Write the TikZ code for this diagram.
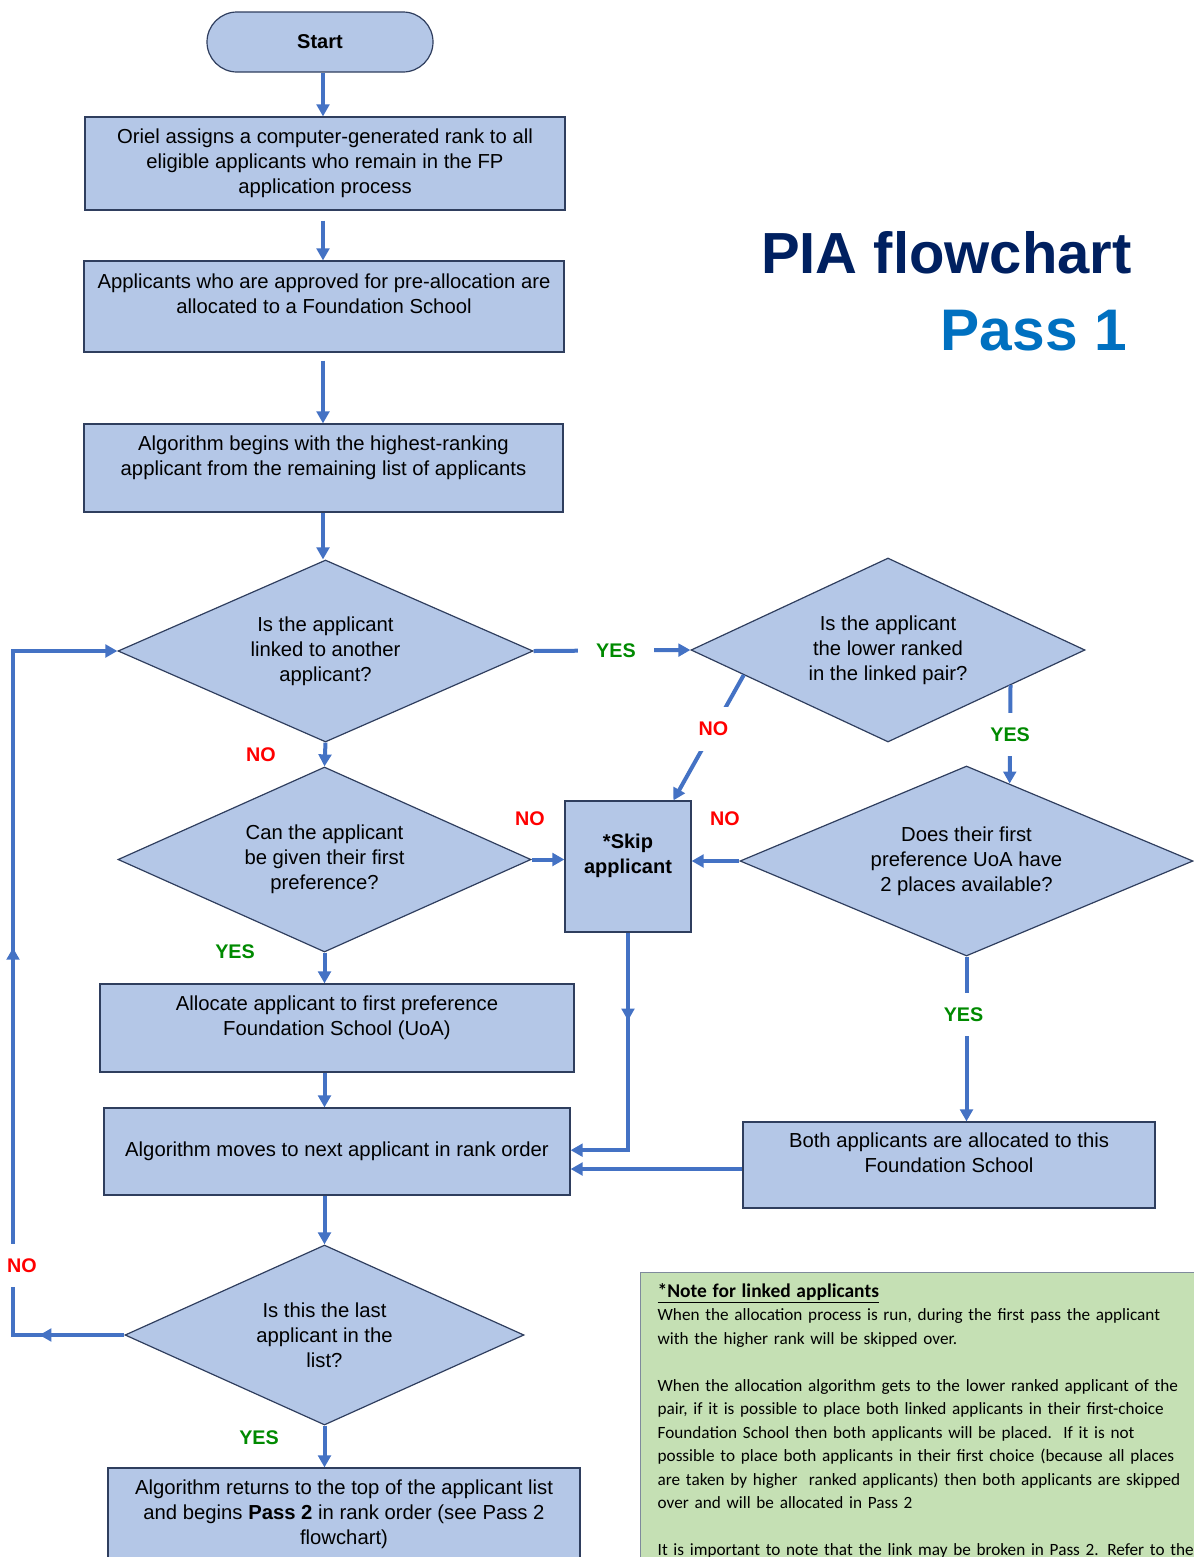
\documentclass[tikz,border=0pt]{standalone}
\usepackage{fontspec}
\setmainfont{Liberation Sans}
\newfontfamily\notefont{Carlito}
\usetikzlibrary{shapes.geometric,arrows.meta,decorations.markings,calc}

\definecolor{boxFill}{HTML}{B4C7E7}
\definecolor{boxLine}{HTML}{2F3E5E}
\definecolor{arrowBlue}{HTML}{4472C4}
\definecolor{noteFill}{HTML}{C5E0B4}
\definecolor{noteLine}{HTML}{7F8A9C}
\definecolor{titleNavy}{HTML}{002060}
\definecolor{titleBlue}{HTML}{0070C0}
\definecolor{yesGreen}{HTML}{008A00}

% empty last line, lifts the text a little in its box
\newcommand{\lowpad}{\\\mbox{}}

\begin{document}
\begin{tikzpicture}
[x=0.75pt,y=-0.75pt,
  boxDecorate/.style={rectangle,draw=boxLine,fill=boxFill,line width=0.9pt,
    align=center,inner sep=2pt,font=\fontsize{15.2}{18.75}\selectfont},
  diamondDecorate/.style={diamond,draw=boxLine,fill=boxFill,line width=0.9pt,
    align=center,inner sep=0pt,shape aspect=2.3,font=\fontsize{15.2}{18.75}\selectfont},
  lineDecorate/.style={draw=arrowBlue,line width=3pt},
  arrowDecorate/.style={lineDecorate,-{Triangle[length=9pt,width=9.5pt]}},
  midArrow/.style={postaction={decorate,decoration={markings,
    mark=at position #1 with {\arrow{Triangle[length=9pt,width=9.5pt]}}}}},
  yesLabel/.style={text=yesGreen,font=\bfseries\fontsize{14.8}{17}\selectfont},
  noLabel/.style={text=red,font=\bfseries\fontsize{14.8}{17}\selectfont},
  gapLabel/.style={fill=white,inner xsep=14pt,inner ysep=11pt}]
\useasboundingbox (0,0) rectangle (1194,1557);
\clip (0,0) rectangle (1194,1557);

%% title
\node (title) [anchor=base east,inner sep=0pt,text=titleNavy,
  font=\bfseries\fontsize{43.5}{50}\selectfont] at (1132,273) {PIA flowchart};
\node (pass) [anchor=base east,inner sep=0pt,text=titleBlue,
  font=\bfseries\fontsize{44}{50}\selectfont] at (1127,350) {Pass 1};

%% terminal
\node (start) at (320,42) [boxDecorate,rounded corners=22.5pt,
  minimum width=169.5pt,minimum height=45pt,font=\bfseries\fontsize{15}{18.75}\selectfont] {Start};

%% process boxes
\foreach \nodename/\x/\y/\w/\h/\txt in {
  box1/325/163.5/360pt/69.75pt/{Oriel assigns a computer-generated rank to all\\eligible applicants who remain in the FP\\application process},
  box2/324/306.5/360pt/68.25pt/{Applicants who are approved for pre-allocation are\\allocated to a Foundation School\lowpad},
  box3/323.5/468/359.25pt/66pt/{Algorithm begins with the highest-ranking\\applicant from the remaining list of applicants\lowpad},
  box4/337/1028/355.5pt/66pt/{Allocate applicant to first preference\\Foundation School (UoA)\lowpad},
  box5/337/1151.5/349.5pt/65.25pt/{Algorithm moves to next applicant in rank order},
  box6/949/1165/309pt/64.5pt/{Both applicants are allocated to this\\Foundation School\lowpad},
  box7/344/1514/354pt/69pt/{Algorithm returns to the top of the applicant list\\and begins \textbf{Pass 2} in rank order (see Pass 2\\flowchart)}} {
  \node (\nodename) at (\x,\y) [boxDecorate,minimum width=\w,minimum height=\h] {\txt};
}
\node (skip) at (628,866.5) [boxDecorate,minimum width=94.5pt,minimum height=98.25pt,
  font=\bfseries\fontsize{15}{18.75}\selectfont] {*Skip\\applicant\lowpad};

%% decisions
\foreach \nodename/\x/\y/\w/\h/\txt in {
  D1/325.5/651/311.25pt/136.5pt/{Is the applicant\\linked to another\\applicant?},
  D2/888/650/295.5pt/138pt/{Is the applicant\\the lower ranked\\in the linked pair?},
  D3/324.5/859.5/309.75pt/138.75pt/{Can the applicant\\be given their first\\preference?},
  D4/966.5/861/339.75pt/142.5pt/{Does their first\\preference UoA have\\2 places available?},
  D5/324.5/1335/299.25pt/135pt/{Is this the last\\applicant in the\\list?}} {
  \node (\nodename) at (\x,\y) [diamondDecorate,minimum width=\w,minimum height=\h] {\txt};
}

%% note
\node (note) at (640,1272) [anchor=north west,draw=noteLine,fill=noteFill,line width=1pt,
  align=left,inner xsep=12.75pt,inner ysep=8pt,text width=440pt,
  font=\notefont\fontsize{12.9}{17.6}\selectfont]
  {{\fontsize{14.6}{17.6}\selectfont\textbf{\underline{*Note for linked applicants}}}\\
   When the allocation process is run, during the first pass the applicant\\
   with the higher rank will be skipped over.\\[17.6pt]
   When the allocation algorithm gets to the lower ranked applicant of the\\
   pair, if it is possible to place both linked applicants in their first-choice\\
   Foundation School then both applicants will be placed.\ \ If it is not\\
   possible to place both applicants in their first choice (because all places\\
   are taken by higher\ \ ranked applicants) then both applicants are skipped\\
   over and will be allocated in Pass 2\\[17.6pt]
   It is important to note that the link may be broken in Pass 2. Refer to the};

%% straight spine
\coordinate (spine) at (323,0);
\foreach \startnode/\endnode/\gap in {start/box1/0pt, box1/box2/7.5pt, box2/box3/6pt, box3/D1/0pt} {
  \draw[arrowDecorate,shorten <=\gap] (\startnode.south -| spine) -- (\endnode.north -| spine);
}
\draw[arrowDecorate] (D1.south) -- (D3.north)
  node[noLabel] at (261,755) {NO};
\draw[arrowDecorate] (D3.south) -- (D3.south |- box4.north)
  node[yesLabel] at (235,952) {YES};
\draw[arrowDecorate] (D3.south |- box4.south) -- (D3.south |- box5.north);
\draw[arrowDecorate] (D5.north |- box5.south) -- (D5.north);
\draw[arrowDecorate] (D5.south) -- (D5.south |- box7.north)
  node[yesLabel] at (259,1438) {YES};

%% linked branch
\draw[arrowDecorate] (D1.east) -- node[yesLabel,gapLabel,pos=0.525] {YES} (D2.west);
\draw[arrowDecorate] ($(D2.west)!0.27!(D2.south)$)
  -- node[noLabel,gapLabel,pos=0.43] {NO} ($(skip.north west)!0.857!(skip.north east)$);
\draw[arrowDecorate] ($(D2.south)!0.62!(D2.east)$)
  -- node[yesLabel,gapLabel] {YES} ($(D4.north)!0.19!(D4.east)$);
\draw[arrowDecorate] (D3.east) -- (skip.west |- D3.east)
  node[noLabel] at (530,819) {NO};
\draw[arrowDecorate] (D4.west) -- (skip.east |- D4.west)
  node[noLabel] at (725,819) {NO};
\draw[arrowDecorate] (D4.south) -- node[yesLabel,gapLabel,pos=0.35,xshift=-2.25pt] {YES} (D4.south |- box6.north);
\draw[arrowDecorate,midArrow=66pt] (skip.south) |- ([yshift=1pt]box5.east);
\draw[arrowDecorate] ([yshift=-3pt]box6.west) -- ([yshift=-3pt]box6.west -| box5.east);

%% loop back
\coordinate (loopx) at (13,0);
\draw[arrowDecorate,midArrow=63.75pt,midArrow=374pt] (D5.west) -- (D5.west -| loopx)
  -- node[noLabel,gapLabel,pos=0.102,xshift=6.75pt] {NO} (D1.west -| loopx) -- (D1.west);
\end{tikzpicture}
\end{document}
